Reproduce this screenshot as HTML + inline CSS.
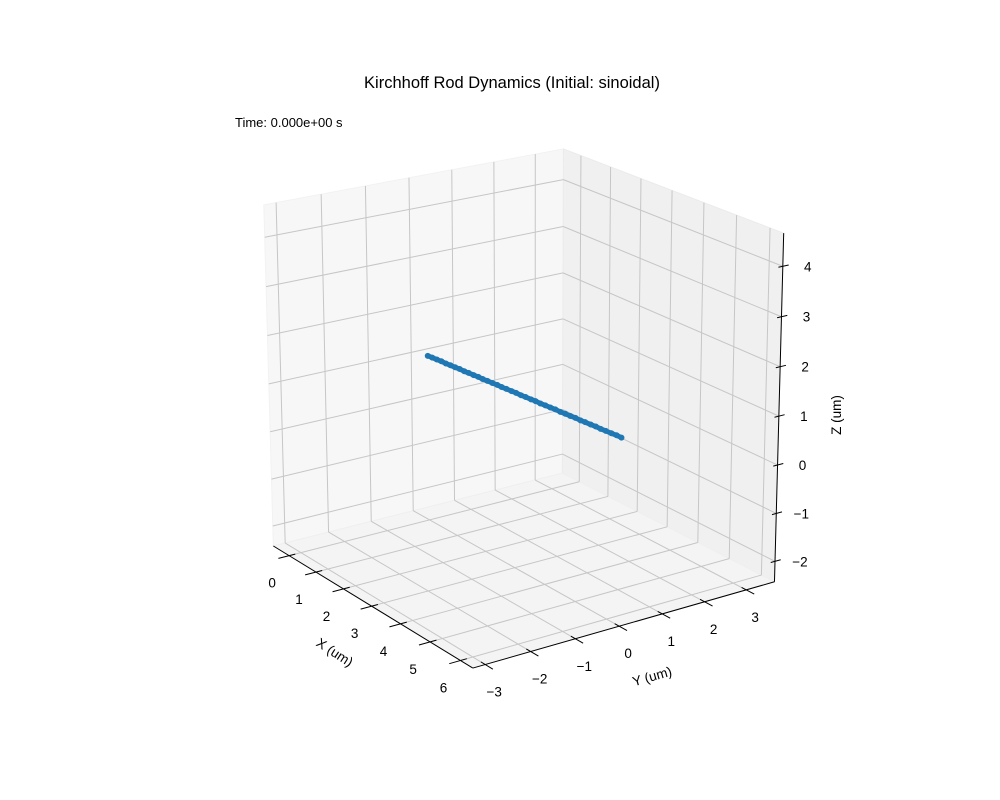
<!DOCTYPE html>
<html><head><meta charset="utf-8">
<style>
html,body{margin:0;padding:0;background:#fff;}
svg{display:block;font-family:"Liberation Sans",sans-serif;}
</style></head>
<body>
<svg id="chart" width="1000" height="800" viewBox="0 0 1000 800" xmlns="http://www.w3.org/2000/svg">
<rect width="1000" height="800" fill="#fff"/>
<text x="512" y="88" font-size="16.5" text-anchor="middle" fill="#000">Kirchhoff Rod Dynamics (Initial: sinoidal)</text>
<text x="235" y="127" font-size="13" fill="#000">Time: 0.000e+00 s</text>
<g id="panes"></g><g id="grid"></g><g id="axes"></g><g id="rod"></g><g id="labels"></g>
<text x="335" y="657" font-size="13.5" text-anchor="middle" transform="rotate(33 335 652)">X (um)</text>
<text x="652" y="681" font-size="13.5" text-anchor="middle" transform="rotate(-16 652 676)">Y (um)</text>
<text x="836" y="420" font-size="13.5" text-anchor="middle" transform="rotate(-90 836 415)">Z (um)</text>
</svg>
<script>
const xTicks = [0,1,2,3,4,5,6];
const yTicks = [-3,-2,-1,0,1,2,3];
const zTicks = [-2,-1,0,1,2,3,4];
const xLim = [-0.6, 6.4];
const yLim = [-3.27, 3.69];
const zLim = [-2.43, 4.65];
const rodX = [0,0.16,0.31,0.47,0.63,0.79,0.94,1.10,1.26,1.41,1.57,1.73,1.88,2.04,2.20,2.36,2.51,2.67,2.83,2.98,3.14,3.30,3.46,3.61,3.77,3.93,4.08,4.24,4.40,4.56,4.71,4.87,5.03,5.18,5.34,5.50,5.65,5.81,5.97,6.13,6.28];
const rodY = [0,0.00,0.01,0.01,0.01,0.01,0.02,0.02,0.02,0.02,0.03,0.03,0.03,0.03,0.04,0.04,0.04,0.04,0.05,0.05,0.05,0.05,0.06,0.06,0.06,0.06,0.07,0.07,0.07,0.07,0.08,0.08,0.08,0.08,0.09,0.09,0.09,0.09,0.10,0.10,0.10];
const rodZ = [1.10,1.11,1.11,1.12,1.12,1.13,1.13,1.14,1.14,1.15,1.15,1.16,1.16,1.17,1.17,1.18,1.18,1.19,1.19,1.20,1.20,1.21,1.21,1.22,1.22,1.23,1.23,1.24,1.24,1.25,1.25,1.26,1.26,1.27,1.27,1.28,1.28,1.29,1.29,1.30,1.30];

const corners = [
 [0,0,0,273,546],[1,0,0,473,668],[1,1,0,774,582],[1,1,1,784,233],
 [0,1,1,563,149],[0,0,1,264,205],[0,1,0,563,473]
];
function solve(){
  const A=[],b=[];
  for(const [X,Y,Z,u,v] of corners){
    A.push([X,Y,Z,1,0,0,0,0,-u*X,-u*Y,-u*Z]); b.push(u);
    A.push([0,0,0,0,X,Y,Z,1,-v*X,-v*Y,-v*Z]); b.push(v);
  }
  const n=11,N=[];
  for(let i=0;i<n;i++){N.push([]);for(let j=0;j<=n;j++){let s=0;for(let k=0;k<A.length;k++)s+=A[k][i]*(j<n?A[k][j]:b[k]);N[i].push(s);}}
  for(let i=0;i<n;i++){let p=i;for(let r=i+1;r<n;r++)if(Math.abs(N[r][i])>Math.abs(N[p][i]))p=r;[N[i],N[p]]=[N[p],N[i]];
    for(let r=0;r<n;r++){if(r===i)continue;const f=N[r][i]/N[i][i];for(let c=i;c<=n;c++)N[r][c]-=f*N[i][c];}}
  return N.map((r,i)=>r[n]/r[i]);
}
const P=solve();
function pn(X,Y,Z){const w=P[8]*X+P[9]*Y+P[10]*Z+1;return [(P[0]*X+P[1]*Y+P[2]*Z+P[3])/w,(P[4]*X+P[5]*Y+P[6]*Z+P[7])/w];}
const nx=x=>(x-xLim[0])/(xLim[1]-xLim[0]), ny=y=>(y-yLim[0])/(yLim[1]-yLim[0]), nz=z=>(z-zLim[0])/(zLim[1]-zLim[0]);
function proj(x,y,z){return pn(nx(x),ny(y),nz(z));}
const NS='http://www.w3.org/2000/svg';
function mk(tag,parent,attrs){const e=document.createElementNS(NS,tag);for(const k in attrs)e.setAttribute(k,attrs[k]);document.getElementById(parent).appendChild(e);return e;}
function poly(pts){return pts.map(p=>p[0].toFixed(2)+','+p[1].toFixed(2)).join(' ');}
let e;
e=mk('polygon','panes',{points:poly([pn(0,0,0),pn(0,1,0),pn(0,1,1),pn(0,0,1)]),fill:'#f7f7f7',stroke:'#f2f2f2'});


e=mk('polygon','panes',{points:poly([pn(0,1,0),pn(1,1,0),pn(1,1,1),pn(0,1,1)]),fill:'#f0f0f0',stroke:'#ebebeb'});


e=mk('polygon','panes',{points:poly([pn(0,0,0),pn(1,0,0),pn(1,1,0),pn(0,1,0)]),fill:'#f4f4f4',stroke:'#efefef'});


function gl(a,b,name){const l=mk('line','grid',{x1:a[0],y1:a[1],x2:b[0],y2:b[1],stroke:'#c6c6c6','stroke-width':1});

}
for(const x of xTicks){gl(proj(x,yLim[1],zLim[0]),proj(x,yLim[1],zLim[1]),'x-grid-wall');gl(proj(x,yLim[0],zLim[0]),proj(x,yLim[1],zLim[0]),'x-grid-floor');}
for(const y of yTicks){gl(proj(xLim[0],y,zLim[0]),proj(xLim[0],y,zLim[1]),'y-grid-wall');gl(proj(xLim[0],y,zLim[0]),proj(xLim[1],y,zLim[0]),'y-grid-floor');}
for(const z of zTicks){gl(proj(xLim[0],yLim[0],z),proj(xLim[0],yLim[1],z),'z-grid-left');gl(proj(xLim[0],yLim[1],z),proj(xLim[1],yLim[1],z),'z-grid-right');}
function al(a,b,name){const l=mk('line','axes',{x1:a[0],y1:a[1],x2:b[0],y2:b[1],stroke:'#000','stroke-width':1});

}
al(pn(0,0,0),pn(1,0,0),'x-axis-line');al(pn(1,0,0),pn(1,1,0),'y-axis-line');al(pn(1,1,0),pn(1,1,1),'z-axis-line');
function lab(p,t,name){const s=mk('text','labels',{x:p[0],y:p[1]+5,'font-size':13.5,'text-anchor':'middle',fill:'#000'});s.textContent=t;

}
const fmt=v=>(v<0?'\u2212'+(-v):''+v);
for(const x of xTicks){al(pn(nx(x),-0.035,0),pn(nx(x),0.02,0),'x-tick');const p=proj(x,yLim[0],zLim[0]);lab([p[0]-17,p[1]+27],fmt(x),'x-tick-label');}
for(const y of yTicks){al(pn(1.035,ny(y),0),pn(0.98,ny(y),0),'y-tick');const p=proj(xLim[1],y,zLim[0]);lab([p[0]+9,p[1]+27],fmt(y),'y-tick-label');}
for(const z of zTicks){al(pn(1,1.02,nz(z)),pn(1.0,0.985,nz(z)),'z-tick');const p=proj(xLim[1],yLim[1],z);lab([p[0]+25,p[1]],fmt(z),'z-tick-label');}
const pts=rodX.map((x,i)=>proj(x,rodY[i],rodZ[i]));
e=mk('polyline','rod',{points:poly(pts),fill:'none',stroke:'#1f77b4','stroke-width':5,'stroke-linecap':'round'});


for(const p of pts){const c=mk('circle','rod',{cx:p[0],cy:p[1],r:3,fill:'#1f77b4'});

}
</script>
</body></html>
